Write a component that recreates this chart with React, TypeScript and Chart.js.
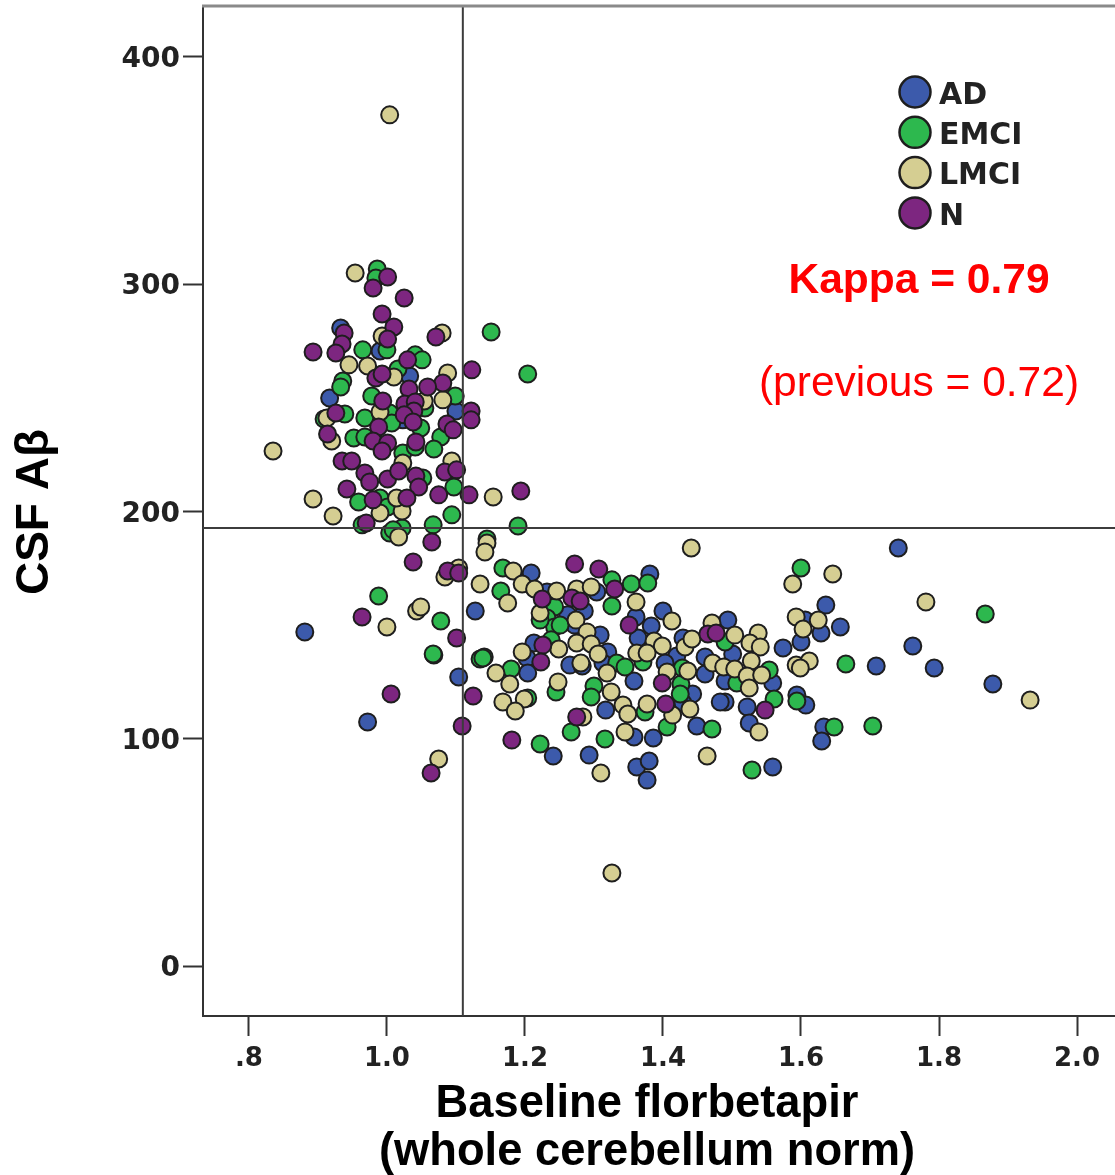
import React, { useEffect, useRef } from "react";
import { Chart, registerables } from "chart.js";

Chart.register(...registerables);

const adPoints = [[0.933,280.7],[0.990,270.6],[1.033,259.6],[0.917,249.9],[1.100,244.2],[1.023,240.3],[0.881,147.0],[1.128,156.2],[0.972,107.4],[1.104,127.2],[1.209,172.9],[1.381,172.5],[1.304,164.6],[1.232,164.6],[1.286,156.2],[1.262,154.5],[1.361,153.6],[1.400,156.2],[1.383,149.6],[1.272,150.0],[1.309,145.6],[1.364,144.3],[1.213,142.1],[1.203,135.5],[1.320,138.2],[1.265,132.4],[1.283,132.0],[1.204,128.9],[1.313,133.3],[1.358,125.4],[1.494,152.2],[1.429,144.3],[1.420,136.4],[1.461,136.0],[1.501,137.3],[1.461,128.5],[1.490,125.4],[1.403,133.3],[1.443,119.7],[1.490,116.2],[1.483,116.2],[1.522,114.0],[1.525,106.9],[1.317,112.6],[1.358,100.8],[1.386,100.3],[1.449,105.6],[1.293,92.8],[1.241,92.4],[1.362,87.6],[1.380,90.2],[1.377,81.8],[1.429,115.7],[1.741,183.9],[1.636,158.8],[1.657,149.2],[1.629,146.5],[1.600,142.6],[1.574,139.9],[1.606,152.2],[1.709,132.0],[1.762,140.8],[1.793,131.1],[1.878,124.1],[1.559,124.5],[1.594,119.2],[1.607,114.8],[1.633,105.2],[1.630,99.0],[1.559,87.6]];

const emciPoints = [[0.986,306.7],[0.984,302.7],[0.965,271.1],[1.000,271.1],[1.041,268.9],[1.051,266.7],[1.151,279.0],[1.204,260.5],[1.016,262.7],[0.936,257.4],[0.933,254.8],[0.978,250.8],[1.099,250.8],[0.909,240.7],[0.939,242.9],[0.968,241.1],[1.004,243.3],[1.007,238.9],[1.055,245.5],[1.049,236.7],[0.952,232.3],[0.968,232.8],[1.078,232.8],[1.068,227.5],[1.023,225.7],[1.041,228.4],[1.052,214.7],[1.097,210.8],[0.959,204.2],[0.990,205.9],[1.001,202.0],[1.094,198.5],[1.067,194.1],[1.190,193.6],[0.964,194.1],[1.004,190.5],[1.022,192.7],[1.009,191.9],[1.145,187.9],[0.988,162.8],[1.078,151.8],[1.068,136.8],[1.067,137.3],[1.141,136.0],[1.135,135.1],[1.168,175.1],[1.165,165.0],[1.326,169.9],[1.354,168.1],[1.378,168.5],[1.326,158.4],[1.243,158.0],[1.232,153.1],[1.243,149.2],[1.251,150.0],[1.222,152.2],[1.238,143.5],[1.139,135.5],[1.180,130.7],[1.333,133.3],[1.345,131.6],[1.371,133.8],[1.300,123.2],[1.296,118.4],[1.245,120.6],[1.204,117.9],[1.374,111.8],[1.426,124.1],[1.425,119.7],[1.406,105.2],[1.471,104.3],[1.267,103.0],[1.316,99.9],[1.222,97.7],[1.529,86.2],[1.490,142.6],[1.507,124.5],[1.428,131.1],[1.600,175.1],[1.867,154.9],[1.665,132.9],[1.554,130.2],[1.561,117.5],[1.594,116.6],[1.648,105.2],[1.704,105.6]];

const lmciPoints = [[1.004,374.5],[1.326,40.9],[0.954,304.9],[0.835,226.6],[0.945,264.5],[0.972,264.0],[1.010,259.2],[1.088,260.9],[1.081,249.1],[1.080,278.5],[0.993,277.2],[0.913,241.1],[0.990,243.8],[1.054,248.6],[0.920,231.0],[0.893,205.5],[0.922,198.0],[0.990,199.3],[1.022,200.2],[1.014,205.9],[1.023,221.3],[1.094,222.2],[1.154,206.4],[1.017,188.8],[1.145,186.1],[1.142,182.2],[1.084,171.2],[1.104,175.1],[1.135,168.1],[1.043,156.2],[1.049,158.0],[1.000,149.2],[1.075,91.1],[1.158,128.9],[1.441,183.9],[1.183,173.8],[1.196,168.1],[1.175,159.7],[1.214,165.9],[1.246,165.0],[1.275,165.9],[1.296,166.8],[1.361,160.2],[1.222,155.3],[1.274,152.2],[1.290,147.0],[1.275,142.1],[1.296,141.7],[1.249,139.5],[1.196,138.2],[1.306,137.3],[1.281,133.3],[1.178,124.1],[1.319,128.9],[1.248,125.0],[1.325,120.6],[1.168,116.2],[1.199,117.5],[1.186,112.2],[1.342,114.8],[1.349,110.9],[1.377,115.3],[1.414,110.4],[1.439,113.1],[1.345,103.0],[1.464,92.4],[1.310,84.9],[1.413,151.8],[1.387,143.0],[1.399,140.8],[1.362,137.7],[1.377,137.7],[1.406,129.4],[1.436,129.8],[1.432,140.4],[1.442,143.9],[1.471,150.9],[1.504,145.6],[1.538,146.5],[1.526,142.1],[1.541,140.4],[1.528,134.2],[1.472,133.3],[1.488,131.6],[1.504,130.7],[1.522,127.6],[1.543,128.0],[1.525,122.3],[1.539,103.0],[1.284,109.6],[1.588,168.1],[1.646,172.5],[1.781,160.2],[1.593,153.6],[1.625,152.2],[1.603,148.3],[1.593,132.4],[1.612,134.2],[1.599,131.1],[1.932,117.0]];

const nPoints = [[1.001,303.2],[0.980,298.3],[1.025,293.9],[0.993,286.9],[1.010,281.2],[0.938,278.5],[1.001,275.9],[1.071,276.8],[0.935,273.7],[0.926,269.7],[0.893,270.2],[1.030,266.7],[1.123,262.3],[0.984,258.7],[0.993,260.5],[1.081,256.5],[1.059,254.8],[1.032,253.9],[0.994,248.6],[1.026,247.3],[1.041,248.2],[0.926,243.3],[1.039,244.2],[1.025,242.5],[1.038,239.4],[1.122,244.2],[1.122,240.3],[0.988,237.2],[1.087,238.5],[1.096,235.9],[0.914,234.1],[0.980,231.0],[1.001,230.1],[1.042,230.6],[0.993,226.6],[0.935,222.2],[0.949,222.2],[0.968,216.9],[0.975,213.0],[1.001,214.3],[1.017,217.8],[1.042,215.6],[1.046,210.8],[1.084,217.4],[1.101,218.3],[0.942,209.9],[0.980,205.1],[1.029,205.9],[1.075,207.3],[1.119,207.3],[1.194,209.0],[0.970,194.9],[1.065,186.6],[1.038,177.8],[1.088,173.8],[1.104,172.9],[0.964,153.6],[1.101,144.3],[1.006,119.7],[1.125,118.8],[1.109,105.6],[1.064,84.9],[1.272,176.9],[1.307,174.7],[1.330,165.9],[1.225,161.5],[1.268,161.9],[1.280,160.6],[1.351,150.0],[1.226,141.2],[1.223,133.8],[1.399,124.5],[1.404,115.3],[1.465,146.1],[1.477,146.5],[1.275,109.6],[1.181,99.4],[1.548,112.6]];

const groupNames = ["AD", "EMCI", "LMCI", "N"];
const groupColors = ["#3c5aab", "#2db84e", "#d5ce92", "#7d2680"];
const xTicks = [0.8, 1.0, 1.2, 1.4, 1.6, 1.8, 2.0];
const xTickLabels = [".8", "1.0", "1.2", "1.4", "1.6", "1.8", "2.0"];
const yTicks = [0, 100, 200, 300, 400];
const refX = 1.11;
const refY = 192.7;
const X_MIN = 0.7335;
const X_MAX = 2.055;
const Y_MIN = -22;
const Y_MAX = 422.4;

const BORDER = "#1e1e1e";
const AXIS = "#333333";
const TOP_LINE = "#8a8a8a";
const TEXT = "#222222";

const overlayPlugin = {
  id: "overlay",
  afterDraw(chart: any) {
    const ctx = chart.ctx;
    ctx.save();
    // top frame line
    ctx.strokeStyle = TOP_LINE;
    ctx.lineWidth = 3;
    ctx.beginPath();
    ctx.moveTo(chart.chartArea.left - 1, chart.chartArea.top);
    ctx.lineTo(chart.chartArea.right, chart.chartArea.top);
    ctx.stroke();

    // legend
    groupNames.forEach((name, i) => {
      const cy = 92 + i * 40.3;
      ctx.beginPath();
      ctx.arc(915, cy, 15.5, 0, Math.PI * 2);
      ctx.fillStyle = groupColors[i];
      ctx.fill();
      ctx.strokeStyle = BORDER;
      ctx.lineWidth = 2.5;
      ctx.stroke();
      ctx.fillStyle = TEXT;
      ctx.font = "bold 30px 'DejaVu Sans'";
      ctx.textAlign = "left";
      ctx.textBaseline = "middle";
      ctx.fillText(name, 939, cy + 4);
    });

    // annotations
    ctx.textAlign = "center";
    ctx.textBaseline = "middle";
    ctx.fillStyle = "#ff0000";
    ctx.font = "bold 42.5px 'Liberation Sans'";
    ctx.fillText("Kappa = 0.79", 919, 281);
    ctx.font = "42.5px 'Liberation Sans'";
    ctx.fillText("(previous = 0.72)", 919, 384);

    // axis titles
    ctx.fillStyle = "#000000";
    ctx.font = "bold 45.3px 'Liberation Sans'";
    ctx.fillText("Baseline florbetapir", 647, 1105);
    ctx.fillText("(whole cerebellum norm)", 647, 1153);
    ctx.save();
    ctx.translate(35, 512);
    ctx.rotate(-Math.PI / 2);
    ctx.font = "bold 46px 'Liberation Sans'";
    ctx.fillText("CSF A\u03b2", 0, 0);
    ctx.restore();
    ctx.restore();
  },
};

const toXY = (rows: number[][]) => rows.map(([x, y]) => ({ x, y }));

export default function App() {
  const ref = useRef<HTMLCanvasElement>(null);
  useEffect(() => {
    const groups = [adPoints, emciPoints, lmciPoints, nPoints];
    const scatterSets = groups.map((rows, i) => ({
      label: groupNames[i],
      data: toXY(rows),
      backgroundColor: groupColors[i],
      borderColor: BORDER,
      borderWidth: 2,
      pointRadius: 8.5,
      showLine: false,
      order: 4 - i,
    }));
    const refLine = (data: { x: number; y: number }[]) => ({
      data,
      showLine: true,
      pointRadius: 0,
      borderColor: "#3c3c3c",
      borderWidth: 2,
      order: 0,
    });
    const chart = new Chart(ref.current as HTMLCanvasElement, {
      type: "scatter",
      data: {
        datasets: [
          ...scatterSets,
          refLine([{ x: refX, y: Y_MIN }, { x: refX, y: Y_MAX }]),
          refLine([{ x: X_MIN, y: refY }, { x: X_MAX, y: refY }]),
        ] as any,
      },
      options: {
        animation: false,
        responsive: false,
        devicePixelRatio: 1,
        layout: { autoPadding: false, padding: { top: 6, left: 0, right: 0, bottom: 0 } },
        plugins: { legend: { display: false }, tooltip: { enabled: false } },
        scales: {
          x: {
            type: "linear",
            min: X_MIN,
            max: X_MAX,
            afterBuildTicks: (s: any) => {
              s.ticks = xTicks.map((value) => ({ value }));
            },
            afterFit: (s: any) => {
              s.height = 159;
              s.paddingLeft = 0;
              s.paddingRight = 0;
            },
            grid: { drawOnChartArea: false, drawTicks: true, tickLength: 20, tickColor: AXIS, tickWidth: 2 },
            border: { display: true, color: AXIS, width: 2 },
            ticks: {
              autoSkip: false,
              maxRotation: 0,
              padding: 8,
              color: TEXT,
              font: { family: "'DejaVu Sans'", size: 26, weight: "bold" },
              callback: (v: any) => xTickLabels[xTicks.indexOf(Number(v))] ?? "",
            },
          },
          y: {
            type: "linear",
            min: Y_MIN,
            max: Y_MAX,
            afterBuildTicks: (s: any) => {
              s.ticks = yTicks.map((value) => ({ value }));
            },
            afterFit: (s: any) => {
              s.width = 203;
              s.paddingTop = 0;
              s.paddingBottom = 0;
            },
            grid: { drawOnChartArea: false, drawTicks: true, tickLength: 20, tickColor: AXIS, tickWidth: 2 },
            border: { display: true, color: AXIS, width: 2 },
            ticks: {
              autoSkip: false,
              padding: 3,
              labelOffset: 3,
              color: TEXT,
              font: { family: "'DejaVu Sans'", size: 28, weight: "bold" },
              callback: (v: any) => String(v),
            },
          },
        },
      } as any,
      plugins: [overlayPlugin],
    });
    return () => chart.destroy();
  }, []);
  return (
    <canvas
      ref={ref}
      width={1115}
      height={1175}
      style={{ position: "absolute", left: 0, top: 0, display: "block" }}
    />
  );
}
